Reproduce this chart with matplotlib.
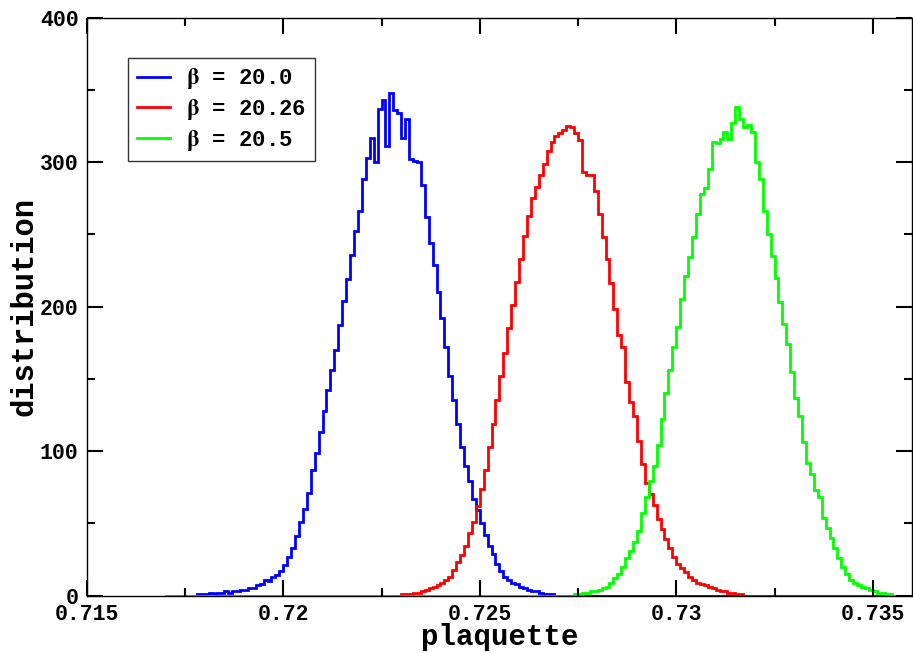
import numpy as np
import matplotlib
matplotlib.use("Agg")
import matplotlib.pyplot as plt
from matplotlib.ticker import MultipleLocator, FixedLocator, FixedFormatter

plt.rcParams['font.family'] = ['Liberation Mono', 'DejaVu Sans']
plt.rcParams['font.weight'] = 'bold'
plt.rcParams['mathtext.fontset'] = 'stix'

# histogram binning (plaquette)
bin_start = 0.717
bin_width = 0.0001
n_bins = 190

labels = [r'$\mathrm{\beta}$ = 20.0', r'$\mathrm{\beta}$ = 20.26', r'$\mathrm{\beta}$ = 20.5']
colors = ['#0000ff', '#ff0000', '#00ff00']

# beta = 20.0 : counts starting at bin index 8
blue_first_bin = 8
blue_counts = [1, 1, 1, 2, 1, 2, 2, 3, 2, 3, 3, 4, 4, 5, 5, 7, 8, 11, 10, 13,
               14, 17, 21, 27, 33, 41, 51, 60, 71, 87, 99, 113, 128, 142, 156, 170, 187, 204, 219, 236,
               252, 266, 288, 303, 317, 300, 337, 343, 311, 348, 336, 334, 317, 330, 302, 301, 300, 284, 262, 244,
               229, 210, 192, 172, 152, 135, 119, 103, 90, 79, 67, 59, 50, 42, 34, 29, 22, 17, 13, 11,
               9, 8, 6, 5, 4, 3, 3, 2, 1, 1, 1]

# beta = 20.26 : counts starting at bin index 60
red_first_bin = 60
red_counts = [1, 1, 1, 2, 2, 3, 4, 5, 6, 7, 9, 11, 13, 18, 23, 28, 34, 43, 51, 62,
              74, 87, 103, 119, 135, 152, 168, 185, 201, 217, 233, 249, 263, 275, 283, 291, 299, 308, 314, 318,
              320, 322, 325, 324, 320, 315, 293, 291, 291, 280, 264, 248, 233, 216, 198, 180, 172, 148, 134, 124,
              107, 91, 78, 70, 63, 53, 46, 39, 33, 27, 22, 19, 16, 13, 11, 9, 8, 7, 6, 5,
              4, 3, 3, 2, 2, 1, 1]

# beta = 20.5 : counts starting at bin index 104
green_first_bin = 104
green_counts = [1, 1, 2, 2, 3, 3, 4, 5, 6, 9, 12, 15, 20, 26, 31, 37, 45, 57, 68, 79,
                90, 104, 122, 140, 156, 172, 186, 205, 221, 234, 248, 264, 278, 282, 295, 314, 313, 316, 321, 316,
                327, 338, 330, 324, 326, 321, 300, 288, 266, 250, 235, 220, 203, 188, 174, 155, 137, 124, 106, 92,
                84, 73, 68, 54, 47, 40, 33, 26, 20, 15, 11, 9, 7, 6, 5, 4, 3, 2, 2, 1, 1]

x_ticks = [0.715, 0.72, 0.725, 0.73, 0.735]
x_ticklabels = ['0.715', '0.72', '0.725', '0.73', '0.735']
y_ticks = [0, 100, 200, 300, 400]
y_ticklabels = ['0', '100', '200', '300', '400']

edges = bin_start + bin_width * np.arange(n_bins + 1)


def full(first, counts):
    arr = np.zeros(n_bins)
    arr[first:first + len(counts)] = counts
    return arr


series = [full(blue_first_bin, blue_counts),
          full(red_first_bin, red_counts),
          full(green_first_bin, green_counts)]

fig = plt.figure(figsize=(9.13, 6.53), dpi=100)
ax = fig.add_axes([0.095, 0.088, 0.904, 0.885])

for vals, c, lab in zip(series, colors, labels):
    ax.stairs(vals, edges, color=c, linewidth=2.0, label=lab, baseline=None)

ax.set_xlim(0.715, 0.736)
ax.set_ylim(0, 400)

ax.xaxis.set_major_locator(FixedLocator(x_ticks))
ax.xaxis.set_major_formatter(FixedFormatter(x_ticklabels))
ax.xaxis.set_minor_locator(MultipleLocator(0.0025))
ax.yaxis.set_major_locator(FixedLocator(y_ticks))
ax.yaxis.set_major_formatter(FixedFormatter(y_ticklabels))
ax.yaxis.set_minor_locator(MultipleLocator(50))

ax.tick_params(which='both', direction='in', top=True, right=True, color='black')
ax.tick_params(which='major', length=11.5, width=1.5, labelsize=15.5, pad=6)
ax.tick_params(which='minor', length=5.8, width=1.5)
for lab in ax.get_xticklabels() + ax.get_yticklabels():
    lab.set_fontweight('bold')

for sp in ax.spines.values():
    sp.set_linewidth(1.0)

ax.set_xlabel('plaquette', fontsize=21, fontweight='bold', va='baseline')
ax.xaxis.set_label_coords(0.5, -0.0855)
ax.set_ylabel('distribution', fontsize=22, fontweight='bold', va='baseline')
ax.yaxis.set_label_coords(-0.066, 0.5)

leg = ax.legend(loc='upper left', bbox_to_anchor=(0.05, 0.931), borderaxespad=0,
                prop={'family': 'Liberation Mono', 'weight': 'bold', 'size': 16},
                handlelength=1.5, handletextpad=0.7, borderpad=0.4, labelspacing=0.25,
                fancybox=False, framealpha=1, edgecolor='#333333')
leg.get_frame().set_linewidth(1.0)
for h in leg.legend_handles:
    h.set_linewidth(2.0)

fig.savefig('out.png', dpi=100)
